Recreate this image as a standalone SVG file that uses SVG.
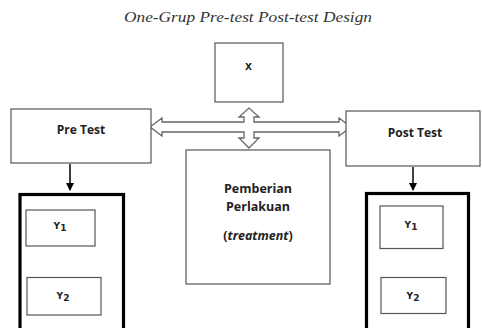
<svg xmlns="http://www.w3.org/2000/svg" width="482" height="328" viewBox="0 0 482 328">
<style>
.box{fill:#fff;stroke:#555;stroke-width:1.2}
.thick{fill:none;stroke:#000;stroke-width:3.2}
.lbl{font-family:"Open Sans","DejaVu Sans",sans-serif;font-weight:bold;fill:#222;text-anchor:middle}
.sm{font-family:"DejaVu Sans",sans-serif;font-weight:bold;fill:#222;text-anchor:middle;font-size:9px}
.title{font-family:"Liberation Serif",serif;font-style:italic;fill:#333;text-anchor:middle}
.conn{stroke:#000;stroke-width:1.5;fill:none}
.cross{fill:#fff;stroke:#666;stroke-width:1.3;stroke-linejoin:miter}
</style>
<defs>
<marker id="ah" markerWidth="8" markerHeight="8" refX="7" refY="4" orient="auto" markerUnits="userSpaceOnUse">
<path d="M0,0 L8,4 L0,8 Z" fill="#000"/>
</marker>
</defs>
<text class="title" x="248" y="21.5" font-size="15.5" textLength="248" lengthAdjust="spacingAndGlyphs">One-Grup Pre-test Post-test Design</text>

<g id="connectors">
<polygon class="cross" points="150,127 162,118 162,122 244,122 244,117 239,117 249,108 259,117 254,117 254,122 339,122 339,118 351,127 339,136 339,132 254,132 254,138 259,138 249,148 239,138 244,138 244,132 162,132 162,136"/>
<line class="conn" x1="70" y1="164" x2="70" y2="190" marker-end="url(#ah)"/>
<line class="conn" x1="413" y1="167" x2="413" y2="190" marker-end="url(#ah)"/>
</g>

<g id="node-x">
<rect class="box" x="215" y="43" width="68" height="59"/>
<text class="sm" x="248.5" y="70">X</text>
</g>

<g id="node-pretest">
<rect class="box" x="11" y="109" width="140" height="54"/>
<text class="lbl" x="81" y="134" font-size="12">Pre Test</text>
</g>

<g id="node-posttest">
<rect class="box" x="346" y="111" width="134" height="55"/>
<text class="lbl" x="415" y="136.5" font-size="12">Post Test</text>
</g>

<g id="node-treatment">
<rect class="box" x="186" y="150" width="144" height="134"/>
<text class="lbl" x="258" y="193.3" font-size="12.5">Pemberian</text>
<text class="lbl" x="258" y="210.7" font-size="12.5">Perlakuan</text>
<text class="lbl" x="258" y="240" font-size="12.5">(<tspan font-style="italic">treatment</tspan>)</text>
</g>

<g id="node-left-group">
<rect class="thick" x="20" y="194.5" width="103.5" height="145"/>
</g>
<g id="node-left-y1">
<rect class="box" x="26" y="210" width="69" height="36"/>
<text class="sm" x="60" y="228.5">Y<tspan dy="2.7">1</tspan></text>
</g>
<g id="node-left-y2">
<rect class="box" x="27" y="277.5" width="74" height="37.5"/>
<text class="sm" x="63" y="299">Y<tspan dy="2.2">2</tspan></text>
</g>

<g id="node-right-group">
<rect class="thick" x="366.5" y="193.5" width="102" height="145"/>
</g>
<g id="node-right-y1">
<rect class="box" x="380" y="206" width="63" height="42.5"/>
<text class="sm" x="411" y="227.7">Y<tspan dy="2.7">1</tspan></text>
</g>
<g id="node-right-y2">
<rect class="box" x="381" y="277.5" width="65" height="36"/>
<text class="sm" x="413" y="299">Y<tspan dy="2.2">2</tspan></text>
</g>
</svg>
